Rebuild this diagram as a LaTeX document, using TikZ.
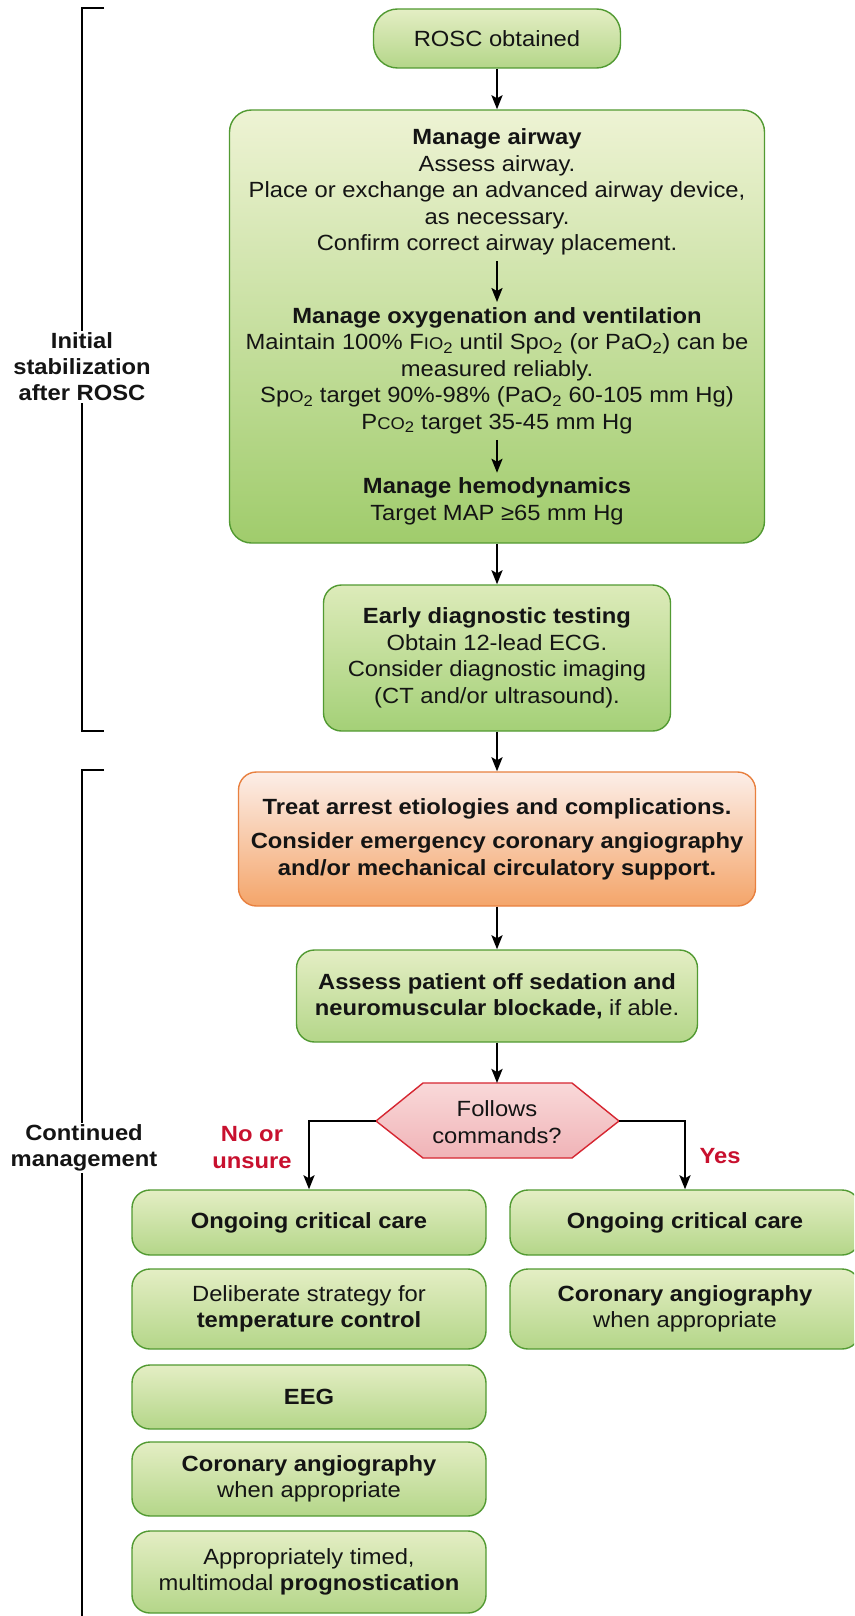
\documentclass[tikz,border=0pt]{standalone}
\usepackage{fontspec}
\setmainfont{Liberation Sans}[FakeStretch=1.08]
\usetikzlibrary{arrows.meta,calc}

\definecolor{gborder}{HTML}{529A32}
\definecolor{gtop}{HTML}{E4EEC4}
\definecolor{gbot}{HTML}{B4D689}
\definecolor{mtop}{HTML}{EEF3D4}
\definecolor{mbot}{HTML}{A0CC6C}
\definecolor{etop}{HTML}{DDEBBA}
\definecolor{ebot}{HTML}{A4D077}
\definecolor{otop}{HTML}{FCEEE8}
\definecolor{obot}{HTML}{F4A56A}
\definecolor{oborder}{HTML}{E8803F}
\definecolor{htop}{HTML}{F9D9D9}
\definecolor{hbot}{HTML}{F0B3B7}
\definecolor{hborder}{HTML}{D62631}
\definecolor{redtxt}{HTML}{C8102E}
\definecolor{txt}{HTML}{141414}

\newcommand\smc[1]{{\fontsize{17}{17}\selectfont #1}}

\begin{document}
\begin{tikzpicture}[x=1pt,y=-1pt,
  every node/.style={text=txt, font=\fontsize{22}{26.5}\selectfont},
  gbox/.style={draw=gborder, line width=1.4pt, rounded corners=18pt,
    top color=gtop, bottom color=gbot, align=center, inner sep=0pt},
  ebox/.style={gbox, top color=etop, bottom color=ebot},
  mbox/.style={gbox, rounded corners=22pt, top color=mtop, bottom color=mbot},
  obox/.style={draw=oborder, line width=1.4pt, rounded corners=18pt,
    top color=otop, bottom color=obot, align=center, inner sep=0pt},
  txtnode/.style={align=center, inner sep=0pt},
  lbl/.style={align=center, inner sep=2pt, fill=white, font=\bfseries\fontsize{22}{26}\selectfont},
  redlbl/.style={align=center, inner sep=0pt, text=redtxt, font=\bfseries\fontsize{22}{27}\selectfont},
  arr/.style={line width=2.5pt, draw=black, -{Stealth[length=14pt,width=11pt,inset=3pt]}},
  brk/.style={line width=2.5pt, draw=black},
]
\useasboundingbox (0,0) rectangle (854,1616);
\clip (0,0) rectangle (854,1616);
\fill[white] (0,0) rectangle (854,1616);

% brackets
\coordinate (b1t) at (104,8);
\coordinate (b1b) at (104,731);
\coordinate (b2t) at (104,770);
\coordinate (b2b) at (82,1625);
\draw[brk] (b1t) -- (82,8) -- (82,731) -- (b1b);
\draw[brk] (b2t) -- (82,770) -- (b2b);
\node[lbl] (lab1) at (82,367) {Initial\\stabilization\\after ROSC};
\node[lbl] (lab2) at (84,1148) {Continued\\management};

% main column
\node[gbox, rounded corners=24pt, minimum width=247, minimum height=59] (rosc) at (497,38.5) {ROSC obtained};

\node[mbox, minimum width=535, minimum height=433] (main) at (497,326.5) {};
\node[txtnode] (g1) at (497,192) {\textbf{Manage airway}\\Assess airway.\\Place or exchange an advanced airway device,\\as necessary.\\Confirm correct airway placement.};
\node[txtnode] (g2) at (497,370.5) {\textbf{Manage oxygenation and ventilation}\\Maintain 100\% F\smc{IO}\textsubscript{2} until Sp\smc{O}\textsubscript{2} (or PaO\textsubscript{2}) can be\\measured reliably.\\Sp\smc{O}\textsubscript{2} target 90\%-98\% (PaO\textsubscript{2} 60-105 mm Hg)\\P\smc{CO}\textsubscript{2} target 35-45 mm Hg};
\node[txtnode] (g3) at (497,501.5) {\textbf{Manage hemodynamics}\\Target MAP ≥65 mm Hg};

\node[ebox, minimum width=347, minimum height=146] (early) at (497,658) {\textbf{Early diagnostic testing}\\Obtain 12-lead ECG.\\Consider diagnostic imaging\\(CT and/or ultrasound).};

\node[obox, minimum width=517, minimum height=134] (treat) at (497,839) {\textbf{Treat arrest etiologies and complications.}\\[8pt]\textbf{Consider emergency coronary angiography}\\\textbf{and/or mechanical circulatory support.}};

\node[gbox, minimum width=401, minimum height=92] (assess) at (497,996) {\textbf{Assess patient off sedation and}\\\textbf{neuromuscular blockade,} if able.};

% decision hexagon
\coordinate (hexT) at (497,1083);
\coordinate (hexL) at (376,1121);
\coordinate (hexR) at (619,1121);
\path[draw=hborder, line width=1.4pt, top color=htop, bottom color=hbot]
  (hexL) -- (423,1083) -- (572,1083) -- (hexR) -- (572,1158) -- (423,1158) -- cycle;
\node[txtnode] (hex) at (497,1122) {Follows\\commands?};

\node[redlbl] (no) at (252,1148) {No or\\unsure};
\node[redlbl] (yes) at (720,1156) {Yes};

% left column
\node[gbox, minimum width=354, minimum height=65] (lo) at (309,1222.5) {\textbf{Ongoing critical care}};
\node[gbox, minimum width=354, minimum height=80] (ld) at (309,1309) {Deliberate strategy for\\\textbf{temperature control}};
\node[gbox, minimum width=354, minimum height=64] (le) at (309,1397) {\textbf{EEG}};
\node[gbox, minimum width=354, minimum height=74] (lc) at (309,1479) {\textbf{Coronary angiography}\\when appropriate};
\node[gbox, minimum width=354, minimum height=82] (lp) at (309,1572) {Appropriately timed,\\multimodal \textbf{prognostication}};

% right column
\node[gbox, minimum width=350, minimum height=65] (ro) at (685,1222.5) {\textbf{Ongoing critical care}};
\node[gbox, minimum width=350, minimum height=80] (rc) at (685,1309) {\textbf{Coronary angiography}\\when appropriate};

% connectors
\draw[arr] (rosc) -- (main);
\draw[arr, shorten <=6pt, shorten >=5pt] (g1) -- (g2);
\draw[arr, shorten <=6pt, shorten >=5pt] (g2) -- (g3);
\draw[arr] (main) -- (early);
\draw[arr] (early) -- (treat);
\draw[arr] (treat) -- (assess);
\draw[arr] (assess) -- (hexT);
\draw[arr] (hexL) -| (lo.north);
\draw[arr] (hexR) -| (ro.north);
\end{tikzpicture}
\end{document}
